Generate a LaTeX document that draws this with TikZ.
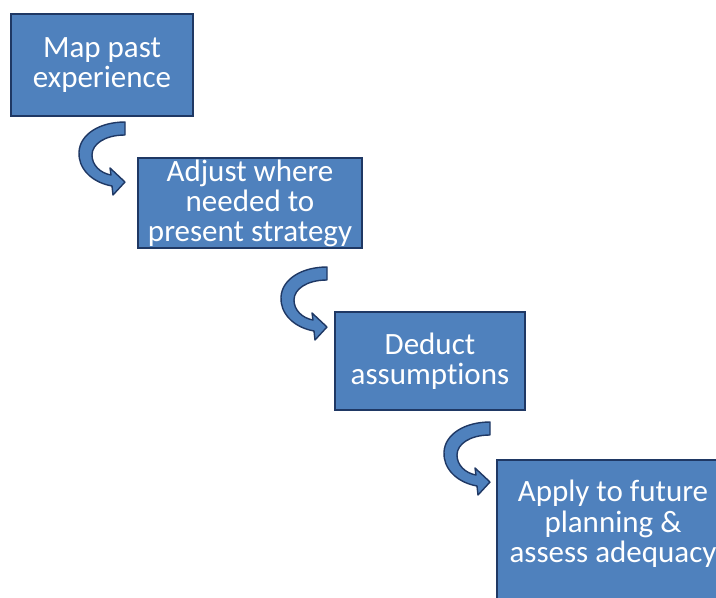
\documentclass[tikz,border=0pt]{standalone}
\usepackage{fontspec}
\setmainfont{Carlito}[Ligatures=NoCommon]
\definecolor{boxfill}{HTML}{4F81BD}
\definecolor{boxline}{HTML}{1F3864}
\begin{document}
\begin{tikzpicture}[x=1pt,y=-1pt,
  stepbox/.style={draw=boxline,line width=2pt,fill=boxfill,text=white,align=center,
    font=\fontsize{31}{30}\selectfont,inner sep=0pt},
  steptext/.style={text=white,align=center,font=\fontsize{31}{30.5}\selectfont,inner sep=0pt},
  curvedarrow/.style={fill=boxfill,draw=boxline,line width=1.4pt,line join=round}]
\useasboundingbox (0,0) rectangle (716,598);
\clip (0,0) rectangle (716,598);
\fill[white] (0,0) rectangle (716,598);
\node[stepbox,minimum width=182,minimum height=102] (b1) at (102,65) {Map past\\experience};
\node[stepbox,minimum width=224,minimum height=90] (b2) at (250,203) {Adjust where\\needed to\\present strategy};
\node[stepbox,minimum width=190,minimum height=98] (b3) at (430,361) {Deduct\\assumptions};
\node[stepbox,minimum width=233,minimum height=170] (b4) at (613.5,545) {};
\node[steptext] (t4) at (613,524) {Apply to future\\planning \&\\assess adequacy};
\foreach \tx/\ty in {125/182, 327/327, 490/482}{
  \draw[curvedarrow,shift={(\tx,\ty)}]
    (0,-60) -- (0,-47)
    .. controls (-20,-47) and (-33,-38) .. (-33,-27)
    .. controls (-33,-17) and (-25,-9) .. (-14,-7)
    -- (-15,-14) -- (0,0) -- (-12,13) -- (-13,4)
    .. controls (-35,0) and (-47,-15) .. (-46,-30)
    .. controls (-45,-48) and (-25,-60) .. (0,-60) -- cycle;
}
\end{tikzpicture}
\end{document}
